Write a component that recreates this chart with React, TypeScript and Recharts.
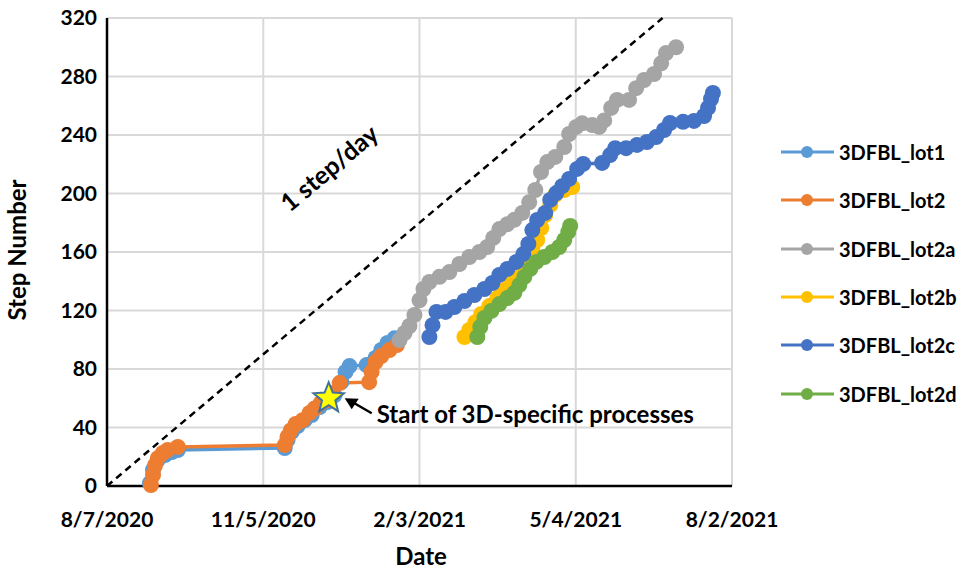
import { CartesianGrid, Line, LineChart, ReferenceDot, ReferenceLine, XAxis, YAxis } from "recharts";

// days counted from 8/7/2020, step number
const lot1 = [
  [24.7, 2], [26.5, 11], [29.3, 17.8], [33.4, 21.2], [37.4, 23.2], [40.8, 24.6],
  [102.4, 26], [104, 31.5], [106.4, 37], [109.8, 41], [113.9, 45], [117.9, 48.5],
  [122.5, 54], [127, 57.4], [131, 62], [135, 71], [137.4, 78], [139.7, 82],
  [149.5, 82.7], [154.7, 87.5], [158, 93], [161.6, 97.8], [165.6, 101],
];
const lot2 = [
  [25.3, 0.7], [26.5, 7.5], [27.6, 14], [29.3, 19], [32.2, 22.6], [35, 24.6], [40.8, 26.7],
  [102.4, 28], [104, 33.5], [105.8, 38], [108.7, 42.4], [112.7, 45], [116.7, 50],
  [119.6, 53], [123, 56.7], [127, 58.8], [130, 63.6], [134, 70.4], [151, 71],
  [152.4, 78], [154.7, 84.8], [158, 88.9], [162.7, 93], [167, 96.4],
];
const lot2a = [
  [168.5, 99.8], [171.4, 104.6], [174.2, 109.4], [177.1, 117], [180, 127], [182.3, 134.7],
  [185.7, 139.5], [191.5, 143], [197.2, 146.3], [203, 151.8], [208.7, 156.6], [214.5, 160],
  [219, 163.4], [222.5, 169.6], [226, 175.7], [230.6, 179], [234.6, 182], [239.2, 186.7],
  [243.2, 194], [246.7, 202.4], [250, 214.7], [253.6, 221.5], [258.2, 225], [263.4, 231.8],
  [266.2, 240.7], [270.3, 245.5], [273.7, 248], [279.5, 246.8], [283.5, 245.5], [286.4, 250],
  [290.4, 258.5], [293.8, 264], [300.7, 264], [304.8, 272], [309.4, 277.6], [315.1, 281.7],
  [319.2, 289], [322, 296], [327.8, 300],
];
const lot2b = [
  [205.9, 101.9], [208.7, 106.7], [212.2, 112], [215.6, 117.6], [220.2, 123], [224.8, 128.5],
  [228.9, 134], [232.9, 140.9], [237.5, 147.7], [241.5, 154.5], [245, 161.4], [247.8, 168.2],
  [250.1, 176.4], [252.4, 185.3], [255.3, 192], [258.2, 199], [263.4, 202.4], [268, 204.4],
];
const lot2c = [
  [185.7, 101.9], [187.5, 110], [189.8, 119], [195, 119], [200.1, 122.4], [205.9, 126.5],
  [211.6, 130.6], [217.4, 134.7], [222, 138.8], [226, 144.3], [230.6, 148.4], [235.8, 153.2],
  [239.8, 158.6], [242.7, 165.5], [245, 175], [247.8, 181.9], [252.4, 186.7], [255.3, 195.6],
  [258.8, 200.3], [262.2, 205], [266.2, 210], [270.8, 216.8], [274.3, 220.2], [285.2, 220.9],
  [289.8, 226.3], [292.7, 231], [299, 231], [305.3, 233.2], [311, 235.2], [316.3, 238.6],
  [320.9, 243.4], [324.3, 248.2], [331.8, 249], [338.1, 249.6], [343.9, 253], [346.2, 258.5],
  [347.9, 264.6], [349, 268.7],
];
const lot2d = [
  [213.3, 101.9], [215, 108.7], [217.4, 114.9], [221.4, 119.7], [226, 124.4], [230.6, 128.5],
  [234.6, 132], [237.5, 137.4], [240.4, 143], [243.8, 148.4], [247.3, 153.2], [251.9, 156.6],
  [256.5, 160], [260.5, 163.4], [263.4, 168.2], [265.7, 173.7], [266.8, 177.8],
];

const xTicks = [0, 90, 180, 270, 360];
const xTickLabels = ["8/7/2020", "11/5/2020", "2/3/2021", "5/4/2021", "8/2/2021"];
const yTicks = [0, 40, 80, 120, 160, 200, 240, 280, 320];

const series = [
  { name: "3DFBL_lot1", color: "#5B9BD5", pts: lot1 },
  { name: "3DFBL_lot2", color: "#ED7D31", pts: lot2 },
  { name: "3DFBL_lot2a", color: "#A5A5A5", pts: lot2a },
  { name: "3DFBL_lot2b", color: "#FFC000", pts: lot2b },
  { name: "3DFBL_lot2c", color: "#4472C4", pts: lot2c },
  { name: "3DFBL_lot2d", color: "#70AD47", pts: lot2d },
];

const startMarker = { d: 127.7, v: 60 };

const FONT = "Lato, 'Open Sans', sans-serif";

function starPoints(cx: number, cy: number, ro: number, ri: number) {
  const out: string[] = [];
  for (let i = 0; i < 10; i++) {
    const r = i % 2 === 0 ? ro : ri;
    const a = -Math.PI / 2 + (i * Math.PI) / 5;
    out.push(`${cx + r * Math.cos(a)},${cy + r * Math.sin(a)}`);
  }
  return out.join(" ");
}

export default function App() {
  return (
    <div style={{ position: "absolute", left: 0, top: 0, width: 980, height: 573, background: "#fff", fontFamily: FONT }}>
      <LineChart width={980} height={573} margin={{ top: 18, right: 248, bottom: 0, left: 0 }}>
        <CartesianGrid stroke="#D9D9D9" strokeWidth={2} />
        <XAxis
          type="number"
          dataKey="d"
          domain={[0, 360]}
          ticks={xTicks}
          tickFormatter={(v: number) => xTickLabels[xTicks.indexOf(v)] ?? ""}
          height={87}
          tickLine={false}
          tickMargin={20}
          axisLine={{ stroke: "#000", strokeWidth: 2.5 }}
          tick={{ fill: "#000", fontSize: 21, fontWeight: 700, fontFamily: FONT }}
          label={{
            content: () => (
              <text x={421} y={559} textAnchor="middle" dominantBaseline="middle" fill="#000" fontSize={24} fontWeight={700} fontFamily={FONT}>
                Date
              </text>
            ),
          }}
        />
        <YAxis
          type="number"
          dataKey="v"
          domain={[0, 320]}
          ticks={yTicks}
          width={107}
          tickLine={false}
          tickMargin={4}
          axisLine={{ stroke: "#000", strokeWidth: 2.5 }}
          tick={{ fill: "#000", fontSize: 21, fontWeight: 700, fontFamily: FONT }}
          label={{
            content: () => (
              <text x={20} y={250} transform="rotate(-90 20 250)" textAnchor="middle" dominantBaseline="middle" fill="#000" fontSize={24} fontWeight={700} fontFamily={FONT}>
                Step Number
              </text>
            ),
          }}
        />
        <YAxis yAxisId="border" orientation="right" width={0} tick={false} tickLine={false} axisLine={{ stroke: "#000", strokeWidth: 2 }} />
        <ReferenceLine
          segment={[{ x: 0, y: 0 }, { x: 320, y: 320 }]}
          stroke="#000"
          strokeWidth={2.5}
          strokeDasharray="7 5"
          ifOverflow="visible"
          label={{
            content: () => (
              <text x={331} y={170} transform="rotate(-40 331 170)" textAnchor="middle" dominantBaseline="middle" fill="#000" fontSize={25} fontWeight={700} fontFamily={FONT}>
                1 step/day
              </text>
            ),
          }}
        />
        {series.map((s) => (
          <Line
            key={s.name}
            name={s.name}
            data={s.pts.map(([d, v]) => ({ d, v }))}
            dataKey="v"
            stroke={s.color}
            strokeWidth={3.5}
            dot={{ r: 8, fill: s.color, stroke: s.color, strokeWidth: 0 }}
            activeDot={false}
            isAnimationActive={false}
          />
        ))}
        <ReferenceDot
          x={startMarker.d}
          y={startMarker.v}
          ifOverflow="visible"
          shape={(p: any) => (
            <g>
              <polygon points={starPoints(p.cx, p.cy, 16, 7)} fill="#FFFF00" stroke="#41719C" strokeWidth={2} />
              <line x1={p.cx + 43} y1={p.cy + 15} x2={p.cx + 24} y2={p.cy + 4} stroke="#000" strokeWidth={2.5} />
              <polygon points={`${p.cx + 16},${p.cy} ${p.cx + 30},${p.cy + 0.5} ${p.cx + 23},${p.cy + 11}`} fill="#000" />
              <text x={p.cx + 48} y={p.cy + 19} dominantBaseline="middle" fill="#000" fontSize={24} fontWeight={700} fontFamily={FONT}>
                Start of 3D-specific processes
              </text>
            </g>
          )}
        />
      </LineChart>
      <div style={{ position: "absolute", left: 780, top: 0 }}>
        {series.map((s, i) => (
          <div key={s.name} style={{ position: "absolute", left: 0, top: 152 + i * 48.3 - 14, height: 28, display: "flex", alignItems: "center", whiteSpace: "nowrap" }}>
            <svg width={56} height={28}>
              <line x1={1} y1={14} x2={54} y2={14} stroke={s.color} strokeWidth={3} />
              <circle cx={27} cy={14} r={6} fill={s.color} />
            </svg>
            <span style={{ fontSize: 20, fontWeight: 700, color: "#000", marginLeft: 3 }}>{s.name}</span>
          </div>
        ))}
      </div>
    </div>
  );
}
